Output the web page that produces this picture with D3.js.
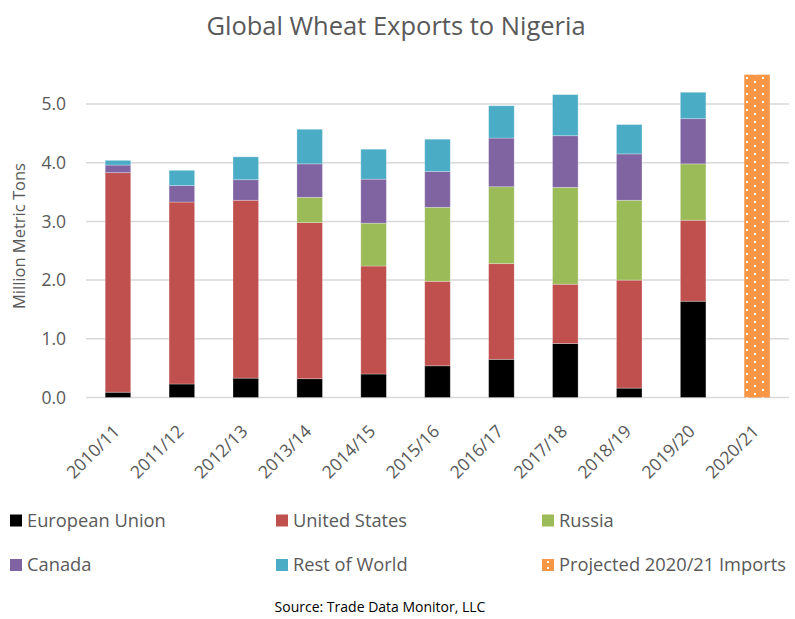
<!DOCTYPE html>
<html lang="en">
<head>
<meta charset="utf-8">
<title>Global Wheat Exports to Nigeria</title>
<style>
  body { margin: 0; background: white; }
  svg { background: white; font-family: "Open Sans", "DejaVu Sans", sans-serif; }
  .grid line { stroke: #d9d9d9; stroke-width: 1.5; }
  .tick-label { fill: #595959; font-size: 17.5px; }
  .legend-label { fill: #595959; font-size: 18.3px; }
</style>
</head>
<body>
<div id="chart"></div>
<script src="https://d3js.org/d3.v7.min.js"></script>
<script>
// marketing years
var years = ["2010/11", "2011/12", "2012/13", "2013/14", "2014/15", "2015/16",
             "2016/17", "2017/18", "2018/19", "2019/20", "2020/21"];

// million metric tons, by origin (2020/21 has only the projection)
var euValues     = [0.09, 0.23, 0.33, 0.32, 0.40, 0.54, 0.65, 0.92, 0.16, 1.64, 0];
var usValues     = [3.74, 3.10, 3.03, 2.66, 1.84, 1.44, 1.63, 1.01, 1.84, 1.38, 0];
var russiaValues = [0.00, 0.00, 0.00, 0.43, 0.73, 1.26, 1.31, 1.65, 1.36, 0.96, 0];
var canadaValues = [0.13, 0.28, 0.35, 0.57, 0.75, 0.61, 0.83, 0.88, 0.79, 0.77, 0];
var rowValues    = [0.08, 0.26, 0.39, 0.59, 0.51, 0.55, 0.55, 0.70, 0.50, 0.45, 0];
var projectedValues = [0, 0, 0, 0, 0, 0, 0, 0, 0, 0, 5.5];

var seriesNames  = ["European Union", "United States", "Russia", "Canada", "Rest of World"];
var seriesColors = ["#000000", "#c0504d", "#9bbb59", "#8064a2", "#4bacc6"];
var projectedName = "Projected 2020/21 Imports";
var projectedColor = "#f79646";

var yTicks = [0, 1, 2, 3, 4, 5];

var width = 795, height = 619;
var margin = {top: 75, left: 86, right: 6, bottom: 221};

var svg = d3.select("#chart").append("svg")
    .attr("width", width)
    .attr("height", height);

var defs = svg.append("defs");
var pat = defs.append("pattern")
    .attr("id", "dots")
    .attr("patternUnits", "userSpaceOnUse")
    .attr("width", 16).attr("height", 8)
    .attr("x", 745).attr("y", 76);
pat.append("rect").attr("width", 16).attr("height", 8).attr("fill", projectedColor);
pat.append("rect").attr("x", 1).attr("y", 1).attr("width", 2).attr("height", 2).attr("fill", "white");
pat.append("rect").attr("x", 9).attr("y", 5).attr("width", 2).attr("height", 2).attr("fill", "white");

var x = d3.scaleBand()
    .domain(years)
    .range([margin.left, width - margin.right])
    .paddingInner(0.6)
    .paddingOuter(0.3);

var y = d3.scaleLinear()
    .domain([0, 5])
    .range([height - margin.bottom - 0.5, 104]);

// title
svg.append("text")
    .attr("x", 396)
    .attr("y", 35)
    .attr("text-anchor", "middle")
    .style("font-size", "25.5px")
    .style("fill", "#595959")
    .text("Global Wheat Exports to Nigeria");

// gridlines
svg.append("g")
    .attr("class", "grid")
    .selectAll("line")
    .data(yTicks)
    .enter().append("line")
    .attr("x1", margin.left)
    .attr("x2", width - margin.right)
    .attr("y1", function(d) { return y(d); })
    .attr("y2", function(d) { return y(d); });

// y tick labels
svg.append("g")
    .selectAll("text")
    .data(yTicks)
    .enter().append("text")
    .attr("class", "tick-label")
    .attr("x", 66)
    .attr("y", function(d) { return y(d); })
    .attr("dy", "0.35em")
    .attr("text-anchor", "end")
    .text(function(d) { return d3.format(".1f")(d); });

// y title
svg.append("text")
    .attr("transform", "translate(25," + y(2.75) + ") rotate(-90)")
    .attr("text-anchor", "middle")
    .style("font-size", "16.5px")
    .style("fill", "#595959")
    .text("Million Metric Tons");

// stacked bars
var table = years.map(function(yr, i) {
    return {year: yr, s0: euValues[i], s1: usValues[i], s2: russiaValues[i],
            s3: canadaValues[i], s4: rowValues[i]};
});
var stack = d3.stack().keys(["s0", "s1", "s2", "s3", "s4"]);
var layers = stack(table);

svg.append("g")
    .selectAll("g")
    .data(layers)
    .enter().append("g")
    .attr("fill", function(d, i) { return seriesColors[i]; })
    .selectAll("rect")
    .data(function(d) { return d; })
    .enter().append("rect")
    .filter(function(d) { return d[1] - d[0] > 0; })
    .attr("x", function(d) { return x(d.data.year); })
    .attr("width", x.bandwidth())
    .attr("y", function(d) { return y(d[1]); })
    .attr("height", function(d) { return y(d[0]) - y(d[1]); })
    .attr("stroke", "rgba(255,255,255,0.35)")
    .attr("stroke-width", 0.8);

// projected bar
svg.append("g")
    .selectAll("rect")
    .data(years.filter(function(d, i) { return projectedValues[i] > 0; }))
    .enter().append("rect")
    .attr("x", function(d) { return x(d); })
    .attr("width", x.bandwidth())
    .attr("y", function(d) { return y(projectedValues[years.indexOf(d)]); })
    .attr("height", function(d) { return y(0) - y(projectedValues[years.indexOf(d)]); })
    .attr("fill", "url(#dots)");

// x labels
svg.append("g")
    .selectAll("text")
    .data(years)
    .enter().append("text")
    .attr("class", "tick-label")
    .attr("text-anchor", "end")
    .attr("transform", function(d) {
        return "translate(" + (x(d) + x.bandwidth() / 2 + 3) + "," + (y(0) + 35) + ") rotate(-45)";
    })
    .text(function(d) { return d; });

// legend
var legendItems = seriesNames.map(function(n, i) { return {name: n, color: seriesColors[i]}; });
legendItems.push({name: projectedName, color: projectedColor, projected: true});
var colX = [10, 276, 542];
var rowY = [520.5, 565];

var leg = svg.append("g")
    .selectAll("g")
    .data(legendItems)
    .enter().append("g")
    .attr("transform", function(d, i) {
        return "translate(" + colX[i % 3] + "," + rowY[Math.floor(i / 3)] + ")";
    });
leg.append("rect")
    .attr("x", 0).attr("y", -6)
    .attr("width", 12).attr("height", 12)
    .attr("fill", function(d) { return d.color; });
leg.filter(function(d) { return d.projected; })
    .append("rect")
    .attr("x", 5).attr("y", -4).attr("width", 2).attr("height", 2).attr("fill", "white");
leg.filter(function(d) { return d.projected; })
    .append("rect")
    .attr("x", 5).attr("y", 2).attr("width", 2).attr("height", 2).attr("fill", "white");
leg.append("text")
    .attr("class", "legend-label")
    .attr("x", 17)
    .attr("dy", "0.35em")
    .text(function(d) { return d.name; });

// source
svg.append("text")
    .attr("x", 380)
    .attr("y", 612)
    .attr("text-anchor", "middle")
    .style("font-size", "14px")
    .style("fill", "#000")
    .text("Source: Trade Data Monitor, LLC");
</script>
</body>
</html>
